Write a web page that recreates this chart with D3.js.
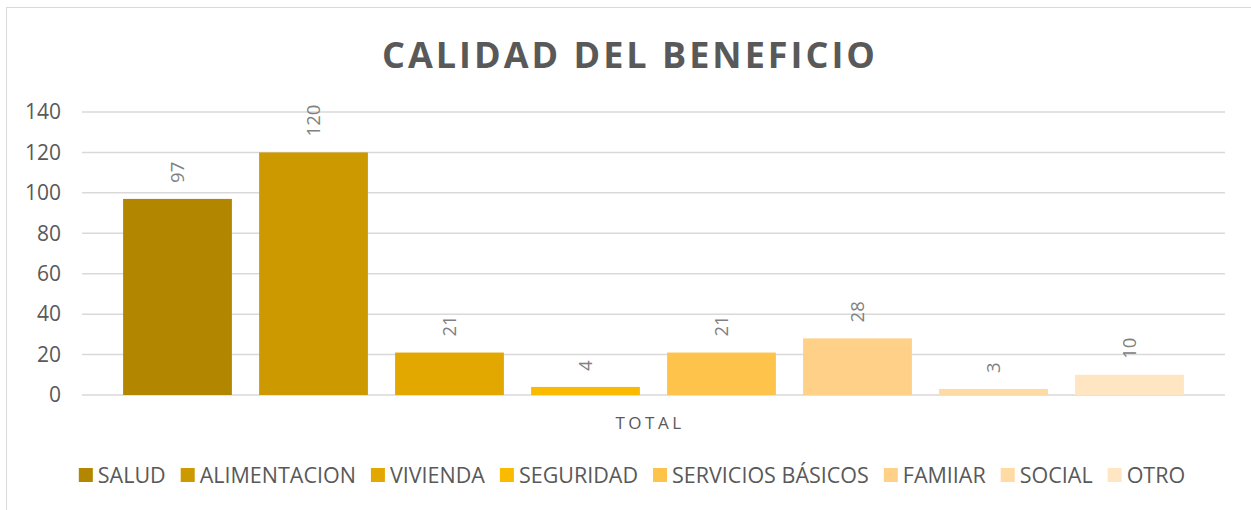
<!DOCTYPE html>
<html>
<head>
<meta charset="utf-8">
<script src="https://cdn.jsdelivr.net/npm/d3@7"></script>
<style>
  body { margin: 0; background: #fff; }
  text { font-family: "Open Sans", "Noto Sans", sans-serif; }
</style>
</head>
<body>
<div id="chart"></div>
<script>
// data
var categories = ["SALUD", "ALIMENTACION", "VIVIENDA", "SEGURIDAD", "SERVICIOS BÁSICOS", "FAMIIAR", "SOCIAL", "OTRO"];
var values = [97, 120, 21, 4, 21, 28, 3, 10];
var colors = ["#b38600", "#cc9900", "#e2a800", "#f9ba00", "#fec34a", "#ffd087", "#ffdaa3", "#ffe5c2"];
var yTicks = [0, 20, 40, 60, 80, 100, 120, 140];

var width = 1251, height = 510;

var svg = d3.select("#chart")
  .append("svg")
    .attr("width", width)
    .attr("height", height);

// chart border
svg.append("rect")
  .attr("x", 6.5).attr("y", 7.5)
  .attr("width", width + 10).attr("height", height + 10)
  .attr("fill", "none")
  .attr("stroke", "#d9d9d9")
  .attr("stroke-width", 1);

// scales
var x = d3.scaleBand()
  .domain(categories)
  .range([109.5, 1197.5])
  .paddingInner(0.2)
  .paddingOuter(0.1);

var y = d3.scaleLinear()
  .domain([0, 140])
  .range([395, 112]);

// gridlines
svg.append("g")
  .selectAll("line")
  .data(yTicks)
  .enter()
  .append("line")
    .attr("x1", 82).attr("x2", 1225)
    .attr("y1", function(d){ return y(d); })
    .attr("y2", function(d){ return y(d); })
    .attr("stroke", "#d9d9d9")
    .attr("stroke-width", 1.5);

// y axis labels
var yAxis = d3.axisLeft(y).tickValues(yTicks).tickSize(0).tickPadding(0);
var ya = svg.append("g")
  .attr("transform", "translate(61,0)")
  .call(yAxis);
ya.select(".domain").remove();
ya.selectAll("text")
  .attr("fill", "#595959")
  .style("font-size", "21px")
  .style("font-family", "'Open Sans', sans-serif");

// bars
svg.append("g")
  .selectAll("rect")
  .data(values)
  .enter()
  .append("rect")
    .attr("x", function(d, i){ return x(categories[i]); })
    .attr("width", x.bandwidth())
    .attr("y", function(d){ return y(d); })
    .attr("height", function(d){ return y(0) - y(d); })
    .attr("fill", function(d, i){ return colors[i]; });

// data labels, rotated
svg.append("g")
  .selectAll("text")
  .data(values)
  .enter()
  .append("text")
    .attr("transform", function(d, i){
      var cx = x(categories[i]) + x.bandwidth() / 2;
      return "translate(" + cx + "," + (y(d) - 16) + ") rotate(-90)";
    })
    .attr("dy", "0.36em")
    .attr("fill", "#808080")
    .style("font-size", "18.5px")
    .text(function(d){ return d; });

// title
svg.append("text")
  .attr("x", 630)
  .attr("y", 68)
  .attr("text-anchor", "middle")
  .attr("fill", "#595959")
  .style("font-size", "36px")
  .style("font-weight", "bold")
  .style("letter-spacing", "3px")
  .text("CALIDAD DEL BENEFICIO");

// category axis label
svg.append("text")
  .attr("x", 650)
  .attr("y", 429)
  .attr("text-anchor", "middle")
  .attr("fill", "#595959")
  .style("font-size", "17px")
  .style("letter-spacing", "3.5px")
  .text("TOTAL");

// legend
var legend = svg.append("g");
var items = legend.selectAll("g")
  .data(categories)
  .enter()
  .append("g");
items.append("rect")
  .attr("width", 14).attr("height", 14)
  .attr("y", 468)
  .attr("fill", function(d, i){ return colors[i]; });
items.append("text")
  .attr("x", 19)
  .attr("y", 483)
  .attr("fill", "#595959")
  .style("font-size", "21.5px")
  .text(function(d){ return d; });

var pos = 0, offsets = [];
items.each(function(d, i){
  offsets.push(pos);
  var w = d3.select(this).select("text").node().getComputedTextLength();
  pos += 19 + w + 15;
});
var total = pos - 15;
var start = 632 - total / 2;
items.attr("transform", function(d, i){ return "translate(" + (start + offsets[i]) + ",0)"; });
</script>
</body>
</html>
